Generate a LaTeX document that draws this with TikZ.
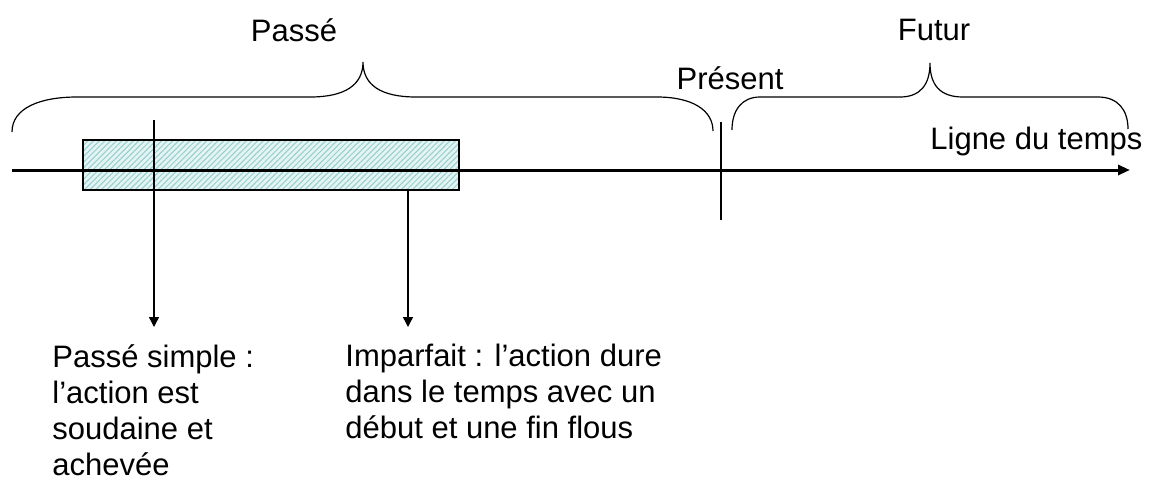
\documentclass[tikz,border=0pt]{standalone}
\usepackage{fontspec}
\setmainfont{Liberation Sans}
\usepackage{tikz}
\usetikzlibrary{positioning}
\usetikzlibrary{arrows.meta}
\usetikzlibrary{patterns.meta}
\definecolor{hachure}{RGB}{150,205,205}
\definecolor{fondpale}{RGB}{228,244,244}

\begin{document}
\begin{tikzpicture}[x=0.5pt,y=-0.5pt]
			\tikzstyle{Texte}    = [font=\fontsize{15.5}{18}\selectfont, inner sep=0pt]
			\tikzstyle{Bloc}     = [Texte, align=left, anchor=north west]
			\tikzstyle{Accolade} = [line width=0.6pt]
			\tikzstyle{Fleche}   = [line width=0.7pt, -{Triangle[length=5pt,width=5pt]}]
			\useasboundingbox (0,0) rectangle (1152,489);
			% duree de l'imparfait
			\node[draw, line width=0.7pt, preaction={fill=fondpale},
			      preaction={pattern={Lines[angle=45,distance=2pt,line width=0.5pt]}, pattern color=hachure},
			      minimum width=188pt, minimum height=25pt, inner sep=0pt] (dure) at (271,165) {};
			% ligne du temps
			\coordinate (debut) at (12,170);
			\coordinate (fin) at (1130,170);
			\draw[line width=1.5pt, -{Triangle[length=6pt,width=5pt]}] (debut) -- (fin);
			\coordinate (pres haut) at (721,122);
			\coordinate (pres bas) at (721,220);
			\draw[line width=0.6pt] (pres haut) -- (pres bas);
			% accolades
			\draw[Accolade] (12,132) .. controls (12,108) and (40,97) .. (77,97) -- (310,97)
				.. controls (345,97) and (363,85) .. (363,62) .. controls (363,85) and (381,97) .. (416,97)
				-- (657,97) .. controls (692,97) and (713,110) .. (713,131);
			\draw[Accolade] (732,130) .. controls (732,110) and (742,97) .. (760,97) -- (900,97)
				.. controls (920,97) and (930,85) .. (930,63) .. controls (930,85) and (940,97) .. (963,97)
				-- (1098,97) .. controls (1118,97) and (1128,110) .. (1128,129);
			\node[Texte, anchor=base] (passe) at (294,41) {Passé};
			\node[Texte, anchor=base] (futur) at (934,40) {Futur};
			\node[Texte, anchor=base] (present) at (730,89) {Présent};
			\node[Texte, anchor=base west] (ligne) at (930,149) {Ligne du temps};
			% fleches vers les explications
			\coordinate (ps haut) at (154,120);
			\coordinate (ps bas) at (154,327);
			\coordinate (imp bas) at (408,327);
			\draw[Fleche] (ps haut) -- (ps bas);
			\draw[Fleche] (dure.south -| imp bas) -- (imp bas);
			\node[Bloc] (simple) at (52,344) {Passé simple :\\l’action est\\soudaine et\\achevée};
			\node[Bloc] (imparfait) at (345,344) {Imparfait : l’action dure\\dans le temps avec un\\début et une fin flous};
		\end{tikzpicture}
\end{document}
